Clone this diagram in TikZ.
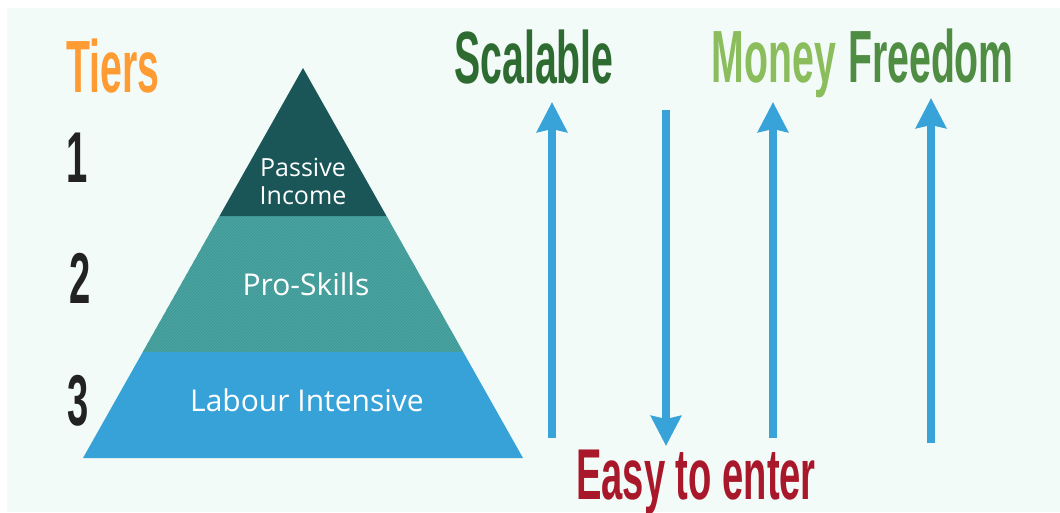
\documentclass[tikz,border=0pt]{standalone}
\usepackage{fontspec}
\setmainfont{Open Sans}
\newfontfamily\condfont[FakeStretch=0.53]{Liberation Sans}
\usetikzlibrary{arrows.meta,patterns,calc}
\definecolor{bgmint}{HTML}{F3FBF8}
\definecolor{tierdark}{HTML}{1A5558}
\definecolor{tiermid}{HTML}{3F9A98}
\definecolor{tiermidline}{HTML}{52A8A5}
\definecolor{tierblue}{HTML}{37A2D7}
\definecolor{arrowblue}{HTML}{37A3D8}
\definecolor{tierorange}{HTML}{FF9B33}
\definecolor{scalegreen}{HTML}{2E6B31}
\definecolor{moneygreen}{HTML}{8BBD5C}
\definecolor{freegreen}{HTML}{4F8D43}
\definecolor{easyred}{HTML}{A8182A}
\definecolor{numblack}{HTML}{222222}
\tikzset{
  bigtitle/.style={anchor=base, inner sep=0pt, font=\condfont\bfseries\fontsize{74}{80}\selectfont},
  tiernum/.style={anchor=base, inner sep=0pt, text=numblack, font=\condfont\bfseries\fontsize{72}{78}\selectfont},
  tiertext/.style={text=white, inner sep=0pt, align=center},
  arr/.style={line width=8pt, draw=arrowblue, -{Stealth[length=30pt,width=30pt,inset=3pt]}}
}
\begin{document}
\begin{tikzpicture}[x=1pt,y=-1pt]
\useasboundingbox (0,0) rectangle (1060,512);
\fill[white] (0,0) rectangle (1060,512);
\fill[bgmint] (7,8) rectangle (1060,512);
% pyramid
\coordinate (apex) at (303,68);
\coordinate (bl) at (83,458);
\coordinate (br) at (523,458);
\coordinate (l1) at ($(apex)!0.3795!(bl)$);
\coordinate (r1) at ($(apex)!0.3795!(br)$);
\coordinate (l2) at ($(apex)!0.728!(bl)$);
\coordinate (r2) at ($(apex)!0.728!(br)$);
\fill[tierblue] (l2) -- (r2) -- (br) -- (bl) -- cycle;
\fill[tiermid] (l1) -- (r1) -- (r2) -- (l2) -- cycle;
\fill[pattern=north east lines, pattern color=tiermidline] (l1) -- (r1) -- (r2) -- (l2) -- cycle;
\fill[tierdark] (apex) -- (r1) -- (l1) -- cycle;
\node[tiertext, font=\fontsize{25}{28}\selectfont] (passive) at (303,181) {Passive\\Income};
\node[tiertext, font=\fontsize{30}{34}\selectfont] (proskills) at (306,284) {Pro-Skills};
\node[tiertext, font=\fontsize{30}{34}\selectfont] (labour) at (307,400) {Labour Intensive};
% tiers
\node[bigtitle, text=tierorange] (tiers) at (113,92) {Tiers};
\node[tiernum] (n1) at (77,182) {1};
\node[tiernum] (n2) at (80,303) {2};
\node[tiernum] (n3) at (78,425) {3};
% titles
\node[bigtitle, text=scalegreen] (scalable) at (534,83) {Scalable};
\node[bigtitle, text=moneygreen] (money) at (774,82) {Money};
\node[bigtitle, text=freegreen] (freedom) at (931,82) {Freedom};
\node[bigtitle, text=easyred, font=\condfont\bfseries\fontsize{72}{78}\selectfont] (easy) at (696,499) {Easy to enter};
% arrows
\coordinate (a1s) at (552,438); \coordinate (a1e) at (552,102);
\coordinate (a2s) at (666,110); \coordinate (a2e) at (666,446);
\coordinate (a3s) at (773,438); \coordinate (a3e) at (773,102);
\coordinate (a4s) at (931,443); \coordinate (a4e) at (931,98);
\draw[arr] (a1s) -- (a1e);
\draw[arr] (a2s) -- (a2e);
\draw[arr] (a3s) -- (a3e);
\draw[arr] (a4s) -- (a4e);
\end{tikzpicture}
\end{document}
